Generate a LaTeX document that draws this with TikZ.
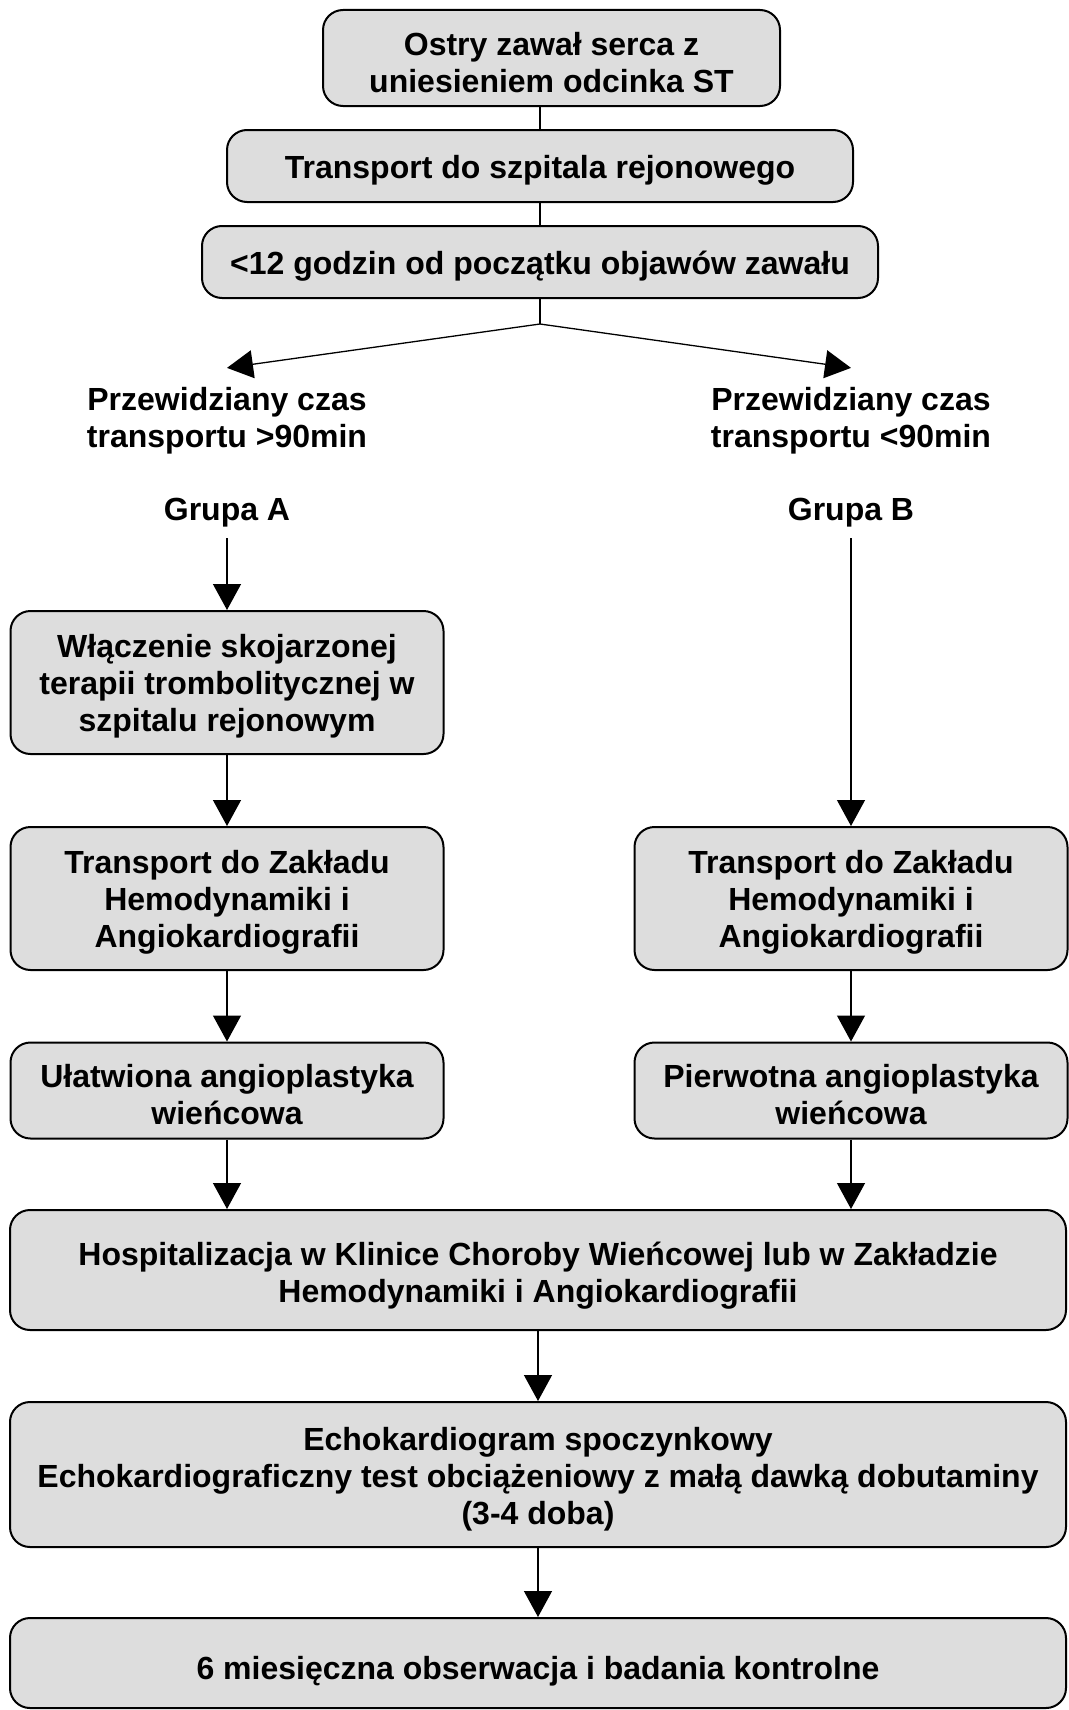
\documentclass[tikz,border=0pt]{standalone}
\usepackage{fontspec}
\setmainfont{Liberation Sans}
\usetikzlibrary{arrows.meta}
\definecolor{boxgray}{HTML}{DDDDDD}
\begin{document}
\begin{tikzpicture}[x=1pt,y=-1pt,
  box/.style={draw=black,line width=2pt,fill=boxgray,rounded corners=20pt,inner sep=0pt},
  txt/.style={inner sep=0pt,align=center,font=\bfseries\fontsize{32}{37}\selectfont,yshift=-4.5pt},
  lbl/.style={inner xsep=0pt,align=center,font=\bfseries\fontsize{32}{37}\selectfont},
  conn/.style={line width=1.3pt},
  arr/.style={line width=1.3pt,-{Triangle[length=26pt,width=28pt]}}]
\useasboundingbox (0,0) rectangle (1068,1710);
\node[box,minimum width=457pt,minimum height=96pt,
  label={[txt,name=b1t]center:{Ostry zawał serca z\\uniesieniem odcinka ST}}] (b1) at (551.5,58) {};
\node[box,minimum width=626pt,minimum height=72pt,
  label={[txt,name=b2t]center:{Transport do szpitala rejonowego}}] (b2) at (540,166) {};
\node[box,minimum width=676pt,minimum height=72pt,
  label={[txt,name=b3t]center:{<12 godzin od początku objawów zawału}}] (b3) at (540,262) {};
\coordinate (split) at (540,324);
\node[lbl,inner ysep=19pt] (lt) at (227,420.5) {Przewidziany czas\\transportu >90min};
\node[lbl,inner ysep=19pt] (rt) at (851,420.5) {Przewidziany czas\\transportu <90min};
\node[lbl,inner ysep=11pt,text height=23pt,text depth=7pt] (ga) at (227,512) {Grupa A};
\node[lbl,inner ysep=11pt,text height=23pt,text depth=7pt] (gb) at (851,512) {Grupa B};
\node[box,minimum width=433pt,minimum height=143pt,
  label={[txt,name=a1t,yshift=1pt]center:{Włączenie skojarzonej\\terapii trombolitycznej w\\szpitalu rejonowym}}] (a1) at (227,682.5) {};
\node[box,minimum width=433pt,minimum height=143pt,
  label={[txt,name=a2t,yshift=1pt]center:{Transport do Zakładu\\Hemodynamiki i\\Angiokardiografii}}] (a2) at (227,898.5) {};
\node[box,minimum width=433pt,minimum height=96pt,
  label={[txt,name=a3t]center:{Ułatwiona angioplastyka\\wieńcowa}}] (a3) at (227,1090.5) {};
\node[box,minimum width=433pt,minimum height=143pt,
  label={[txt,name=bb2t,yshift=1pt]center:{Transport do Zakładu\\Hemodynamiki i\\Angiokardiografii}}] (bb2) at (851,898.5) {};
\node[box,minimum width=433pt,minimum height=96pt,
  label={[txt,name=bb3t]center:{Pierwotna angioplastyka\\wieńcowa}}] (bb3) at (851,1090.5) {};
\node[box,minimum width=1056pt,minimum height=120pt,
  label={[txt,name=ht,yshift=-1pt]center:{Hospitalizacja w Klinice Choroby Wieńcowej lub w Zakładzie\\Hemodynamiki i Angiokardiografii}}] (h) at (538,1270) {};
\node[box,minimum width=1056pt,minimum height=145pt,
  label={[txt,name=et]center:{Echokardiogram spoczynkowy\\Echokardiograficzny test obciążeniowy z małą dawką dobutaminy\\(3-4 doba)}}] (e) at (538,1474.5) {};
\node[box,minimum width=1056pt,minimum height=90pt,
  label={[txt,name=ft,yshift=-4pt]center:{6 miesięczna obserwacja i badania kontrolne}}] (f) at (538,1663) {};
\draw[conn] (b1.south -| b2.north) -- (b2.north);
\draw[conn] (b2) -- (b3);
\draw[conn] (b3.south) -- (split);
\draw[arr] (split) -- (lt.north);
\draw[arr] (split) -- (rt.north);
\draw[arr] (ga.south) -- (a1.north);
\draw[arr] (a1) -- (a2);
\draw[arr] (a2) -- (a3);
\draw[arr] (gb.south) -- (bb2.north);
\draw[arr] (bb2) -- (bb3);
\draw[arr] (a3.south) -- (a3.south |- h.north);
\draw[arr] (bb3.south) -- (bb3.south |- h.north);
\draw[arr] (h) -- (e);
\draw[arr] (e) -- (f);
\end{tikzpicture}
\end{document}
